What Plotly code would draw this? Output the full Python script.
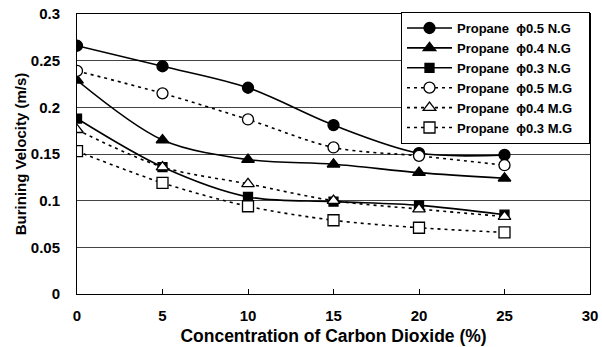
import plotly.graph_objects as go

co2 = [0, 5, 10, 15, 20, 25]
ng_05 = [0.266, 0.244, 0.221, 0.181, 0.151, 0.149]
ng_04 = [0.229, 0.165, 0.144, 0.139, 0.130, 0.124]
ng_03 = [0.188, 0.136, 0.104, 0.099, 0.095, 0.085]
mg_05 = [0.239, 0.215, 0.187, 0.157, 0.148, 0.138]
mg_04 = [0.176, 0.136, 0.118, 0.100, 0.091, 0.083]
mg_03 = [0.153, 0.119, 0.094, 0.079, 0.071, 0.066]

names = ["Propane  \u03d50.5 N.G", "Propane  \u03d50.4 N.G", "Propane  \u03d50.3 N.G",
         "Propane  \u03d50.5 M.G", "Propane  \u03d50.4 M.G", "Propane  \u03d50.3 M.G"]
series = [ng_05, ng_04, ng_03, mg_05, mg_04, mg_03]
symbols = ["circle", "triangle-up", "square", "circle", "triangle-up", "square"]
fills = ["black", "black", "black", "white", "white", "white"]
dashes = ["solid", "solid", "solid", "3px,4px", "3px,4px", "3px,4px"]
sizes = [11, 11, 9, 11, 11, 11]

fig = go.Figure()
for n, s, sym, fc, d, sz in zip(names, series, symbols, fills, dashes, sizes):
    fig.add_trace(go.Scatter(
        x=co2, y=s, name=n + "\u00a0\u00a0\u00a0", mode="lines+markers",
        line=dict(color="black", width=1.6, dash=d, shape="spline", smoothing=0.9),
        marker=dict(symbol=sym, size=sz, color=fc,
                    line=dict(color="black", width=1.3)),
    ))

fig.update_layout(
    width=602, height=347,
    margin=dict(l=77, r=12, t=12, b=53),
    paper_bgcolor="white", plot_bgcolor="white",
    font=dict(family="Liberation Sans, Arial, sans-serif", color="black", size=14),
    showlegend=True,
    legend=dict(x=1.0, y=1.007, xanchor="right", yanchor="top",
                bgcolor="white", bordercolor="black", borderwidth=1,
                font=dict(size=13, family="Liberation Sans, Arial, sans-serif", weight="bold"),
                tracegroupgap=0, itemwidth=45),
    xaxis=dict(range=[0, 30], tickvals=[0, 5, 10, 15, 20, 25, 30],
               ticks="inside", ticklen=5, tickcolor="black",
               showline=True, linecolor="black", linewidth=1, mirror=True,
               showgrid=False, zeroline=False, automargin=False,
               ticklabelstandoff=8, ticklabeloverflow="allow",
               tickfont=dict(size=15, weight="bold"),
               title=dict(text="Concentration of Carbon Dioxide (%)", standoff=6,
                          font=dict(size=17.5, weight="bold"))),
    yaxis=dict(range=[0, 0.3], tickvals=[0, 0.05, 0.1, 0.15, 0.2, 0.25, 0.3],
               ticktext=["0", "0.05", "0.1", "0.15", "0.2", "0.25", "0.3"],
               showline=True, linecolor="black", linewidth=1, mirror=True,
               showgrid=True, gridcolor="#444444", gridwidth=1, zeroline=False,
               automargin=False, ticklabelstandoff=13, ticklabeloverflow="allow",
               tickfont=dict(size=15, weight="bold"),
               title=dict(text="Burining Velocity (m/s)", standoff=0,
                          font=dict(size=15, weight="bold"))),
)

# remove the browser's default 8px body margin so the figure fills the window
fig.write_html("out.html", config={"displayModeBar": False},
               post_script="document.body.style.margin='0';")
